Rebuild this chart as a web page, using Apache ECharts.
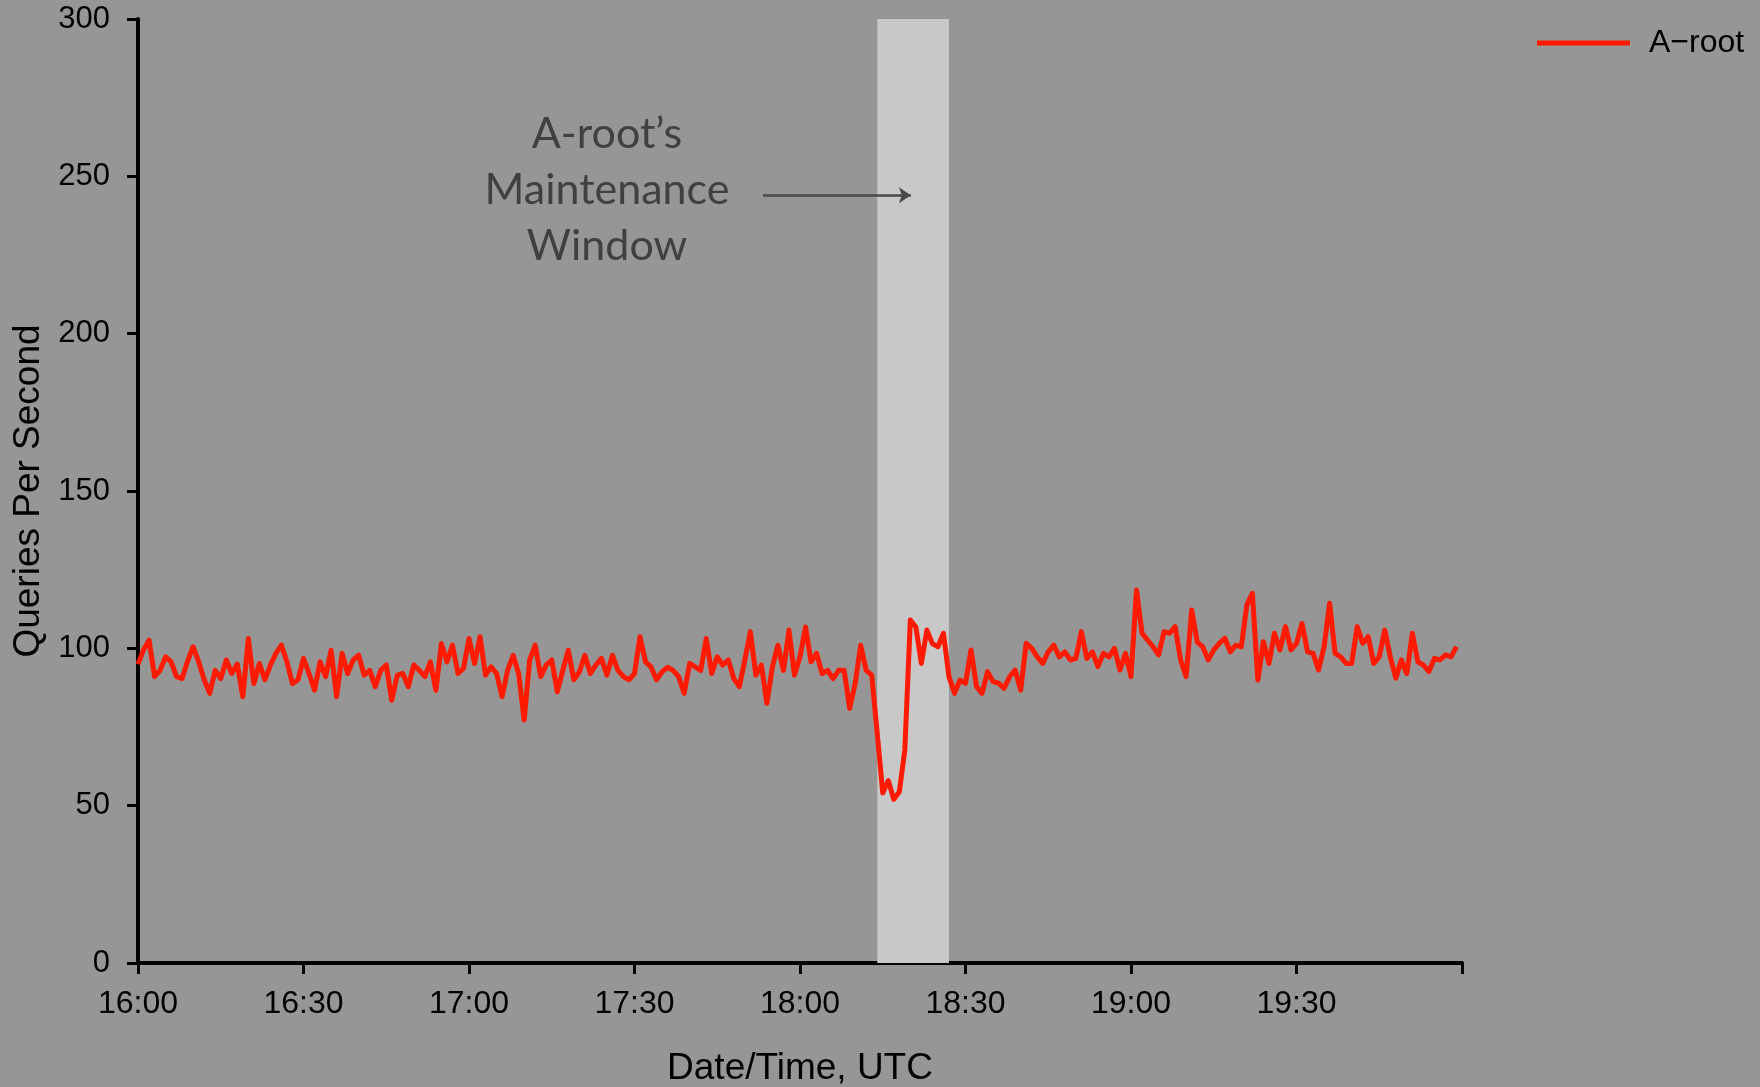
<!DOCTYPE html>
<html>
<head>
<meta charset="utf-8">
<script src="https://cdn.jsdelivr.net/npm/echarts@6/dist/echarts.min.js"></script>
<style>
html,body{margin:0;padding:0;background:#969696;}
#chart{width:1760px;height:1087px;}
</style>
</head>
<body>
<div id="chart"></div>
<script>
// Minutes after 16:00 UTC, one sample per minute
const startHour = 16;
const qps = [
 95, 99.5, 102.6, 91, 93, 97.3, 95.7, 91, 90.4, 96, 100.5, 95.7, 90, 85.7, 93, 90.4, 96.3, 92, 95, 84.6,
 103.1, 88.8, 95.2, 90, 94.7, 98.4, 101, 95.7, 88.8, 90, 96.8, 92, 86.7, 95.7, 91, 99.4, 84.6, 98.4, 92, 96.3,
 97.8, 91.5, 93, 87.8, 93, 94.7, 83.5, 91.5, 92,
 87.8, 94.7, 93, 91, 95.7, 86.7, 101.5, 95.7, 101, 92, 93.6, 103.1, 95.2, 103.7, 91.5, 94.1, 92, 84.6, 93, 97.8,
 92, 77.2, 96.3, 101, 91, 94.7, 96.3, 86.2, 93, 99.4, 90, 92.5, 97.8, 92, 94.7, 96.8, 91.5, 97.8, 93, 91,
 90, 92, 103.7, 95.7, 94.1, 90, 92.5, 94,
 93, 91, 85.7, 95.2, 94.1, 93, 103.1, 92, 97.3, 94.7, 96.3, 90.4, 87.8, 96.3, 105.3, 91.5, 94.7, 82.5, 94.1, 101,
 93, 105.8, 91.5, 97.3, 106.8, 95.7, 98.4, 92, 93, 90.4, 93, 93, 80.9, 88.8, 101, 93, 91.5, 73, 54, 58,
 52, 54.4, 67.7, 109, 106.8, 95.2, 105.8, 101.5,
 100.5, 104.8, 91, 85.7, 89.9, 88.9, 99.5, 87.8, 85.7, 92.6, 89.4, 88.9, 87.3, 91, 93.1, 86.7, 101.6, 100, 97.3, 95.2,
 98.9, 101, 97.3, 98.9, 96.3, 96.8, 105.3, 96.8, 98.9, 94.2, 98.4, 97.3, 100, 93.1, 98.4, 91, 118.5, 104.8, 102.6, 100.5,
 97.9, 105.3, 104.8, 106.9, 96.3, 91, 112.2, 102,
 100.5, 96.3, 99.5, 101.6, 103.2, 98.9, 101, 100.5, 113.8, 117.5, 89.9, 102.1, 95.2, 104.8, 99.5, 106.9, 99.5, 101.6, 107.9, 98.9,
 98.4, 93.1, 100.5, 114.3, 98.4, 97.3, 95.2, 95.2, 106.9, 101.6, 103.7, 95.2, 97.3, 105.8, 97.3, 90.5, 96.3, 92, 104.8, 95.7,
 94.7, 92.6, 96.8, 96.3, 97.9, 97.3, 100.5
];
const minutes = qps.map((v, i) => i);
const xMax = 240;            // 20:00
const yTicks = [0, 50, 100, 150, 200, 250, 300];
const maintenanceWindow = [134.0, 147.0];   // minutes after 16:00
const arrowFrom = [113.3, 244];
const arrowTo = [140.1, 244];
const noteAnchor = [85.0, 245.6];
const noteLines = ['A-root\u2019s', 'Maintenance', 'Window'];

const chart = echarts.init(document.getElementById('chart'), null, {renderer: 'canvas'});
const fmt = m => {
  if (m >= xMax) return '';
  const h = startHour + Math.floor(m / 60);
  const mm = m % 60;
  return h + ':' + (mm < 10 ? '0' + mm : mm);
};
const labelFont = '"Liberation Sans", Arial, sans-serif';
chart.setOption({
  backgroundColor: '#969696',
  animation: false,
  grid: {left: 138, right: 298, top: 19, bottom: 124, containLabel: false, outerBoundsMode: 'none'},
  legend: {
    data: [{name: 'A\u2212root', icon: 'rect'}],
    left: 1532, top: 22,
    itemWidth: 93, itemHeight: 5,
    textStyle: {fontFamily: labelFont, fontSize: 32, color: '#000', padding: [0, 0, 0, 14]}
  },
  xAxis: {
    type: 'value', min: 0, max: xMax, interval: 30,
    name: 'Date/Time, UTC', nameLocation: 'middle', nameGap: 87,
    nameTextStyle: {fontFamily: labelFont, fontSize: 37, color: '#000'},
    axisLine: {show: true, onZero: false, lineStyle: {color: '#000', width: 4}},
    axisTick: {show: true, length: 11, lineStyle: {color: '#000', width: 3}},
    axisLabel: {formatter: fmt, fontFamily: labelFont, fontSize: 32, color: '#000', margin: 25},
    splitLine: {show: false}
  },
  yAxis: {
    type: 'value', min: yTicks[0], max: yTicks[yTicks.length - 1], interval: 50,
    name: 'Queries Per Second', nameLocation: 'middle', nameGap: 80, nameRotate: 90,
    nameTextStyle: {fontFamily: labelFont, fontSize: 37, color: '#000'},
    axisLine: {show: true, lineStyle: {color: '#000', width: 4}},
    axisTick: {show: true, length: 11, lineStyle: {color: '#000', width: 3}},
    axisLabel: {fontFamily: labelFont, fontSize: 31, color: '#000', margin: 28},
    splitLine: {show: false}
  },
  series: [
    {
      name: 'window', type: 'line', data: [], z: 1, silent: true,
      markArea: {
        silent: true,
        itemStyle: {color: '#c8c8c8', opacity: 1},
        data: [[{xAxis: maintenanceWindow[0]}, {xAxis: maintenanceWindow[1]}]]
      },
      markLine: {
        silent: true, symbol: ['none', 'arrow'], symbolSize: [12, 12],
        label: {show: false},
        lineStyle: {color: '#4a4a4a', width: 2.5, type: 'solid'},
        data: [[{coord: arrowFrom}, {coord: arrowTo}]]
      }
    },
    {
      name: 'A\u2212root', type: 'line', z: 5,
      data: minutes.map((m, i) => [m, qps[i]]),
      showSymbol: false, symbol: 'none',
      lineStyle: {color: '#ff1a00', width: 5, join: 'round'},
      itemStyle: {color: '#ff1a00'}
    }
  ]
});
const p = chart.convertToPixel({gridIndex: 0}, noteAnchor);
chart.setOption({
  graphic: noteLines.map((t, i) => ({
    type: 'text', x: p[0], y: p[1] + (i - 1) * 56, z: 10,
    style: {text: t, fontFamily: 'Lato, "Open Sans", sans-serif', fontSize: 43, fill: '#404040',
            align: 'center', verticalAlign: 'middle'}
  }))
});
</script>
</body>
</html>
